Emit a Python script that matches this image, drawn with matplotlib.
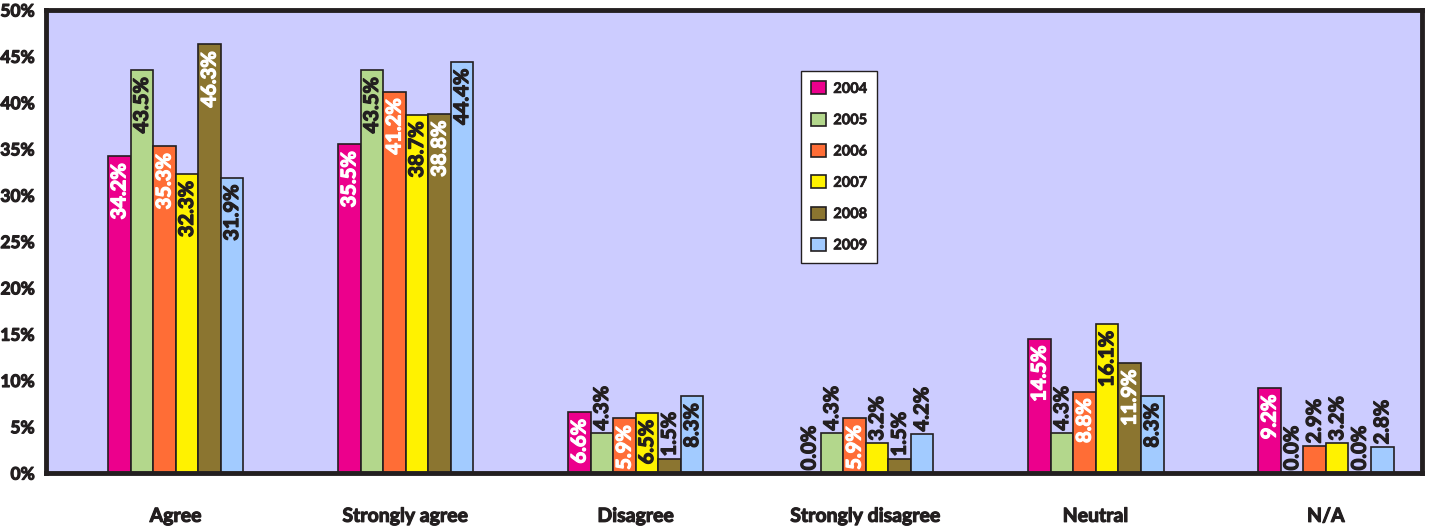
import matplotlib
matplotlib.use("Agg")
import matplotlib.pyplot as plt
import matplotlib.patheffects as pe
import numpy as np

categories = ["Agree", "Strongly agree", "Disagree", "Strongly disagree", "Neutral", "N/A"]
years = ["2004", "2005", "2006", "2007", "2008", "2009"]
v2004 = [34.2, 35.5, 6.6, 0.0, 14.5, 9.2]
v2005 = [43.5, 43.5, 4.3, 4.3, 4.3, 0.0]
v2006 = [35.3, 41.2, 5.9, 5.9, 8.8, 2.9]
v2007 = [32.3, 38.7, 6.5, 3.2, 16.1, 3.2]
v2008 = [46.3, 38.8, 1.5, 1.5, 11.9, 0.0]
v2009 = [31.9, 44.4, 8.3, 4.2, 8.3, 2.8]
series = [v2004, v2005, v2006, v2007, v2008, v2009]
yticks = [0, 5, 10, 15, 20, 25, 30, 35, 40, 45, 50]

colors = ["#EC008C", "#B3D78C", "#FF6D36", "#FFF200", "#8B7530", "#A2CBFF"]
inside_text = ["white", "#231F20", "white", "#231F20", "white", "#231F20"]
dark = "#231F20"


def thick(color, lw=0.9):
    return [pe.withStroke(linewidth=lw, foreground=color)]


plt.rcParams['font.family'] = ['Lato', 'DejaVu Sans']
fig = plt.figure(figsize=(14.29, 5.31), dpi=100)
ax = fig.add_axes([0.032, 0.109, 0.963, 0.872])
ax.set_facecolor("#CCCCFF")

x = np.arange(len(categories))
w = 0.098
for i, (vals, c) in enumerate(zip(series, colors)):
    xs = x + (i - 2.5) * w
    ax.bar(xs, vals, width=w, color=c, edgecolor=dark, linewidth=1.2, label=years[i], zorder=2)
    for xx, v in zip(xs, vals):
        lab = f"{v:.1f}%"
        if v >= 5.5:
            ax.annotate(lab, (xx, v), xytext=(0, -5), textcoords="offset points",
                        rotation=90, ha="center", va="top", fontsize=14.5,
                        fontweight="bold", color=inside_text[i], zorder=3,
                        path_effects=thick(inside_text[i]))
        else:
            ax.annotate(lab, (xx, v), xytext=(0, 2), textcoords="offset points",
                        rotation=90, ha="center", va="bottom", fontsize=14.5,
                        fontweight="bold", color=dark, zorder=3,
                        path_effects=thick(dark))

ax.set_xlim(-0.565, len(categories) - 0.583)
ax.set_ylim(0, 50)
ax.set_yticks(yticks)
ax.set_yticklabels([f"{t}%" for t in yticks], fontsize=12.5, fontweight="bold", color=dark)
ax.set_xticks(x)
ax.set_xticklabels(categories, fontsize=14, fontweight="bold", color=dark)
for t in ax.get_yticklabels() + ax.get_xticklabels():
    t.set_path_effects(thick(dark, 0.8))
ax.tick_params(axis="both", length=0)
ax.tick_params(axis="x", pad=25)
ax.tick_params(axis="y", pad=8)
for s in ax.spines.values():
    s.set_linewidth(3.5)
    s.set_color(dark)

leg = ax.legend(loc="upper left", bbox_to_anchor=(0.549, 0.868), frameon=True,
                fancybox=False, edgecolor=dark, facecolor="white", framealpha=1,
                prop={"weight": "bold", "size": 10.5}, handlelength=1.0, handleheight=1.0,
                labelspacing=1.15, borderpad=0.7, handletextpad=0.5, borderaxespad=0)
leg.get_frame().set_linewidth(1.0)
for t in leg.get_texts():
    t.set_color(dark)
    t.set_path_effects(thick(dark, 0.5))

fig.savefig("out.png", dpi=100, facecolor="white")
